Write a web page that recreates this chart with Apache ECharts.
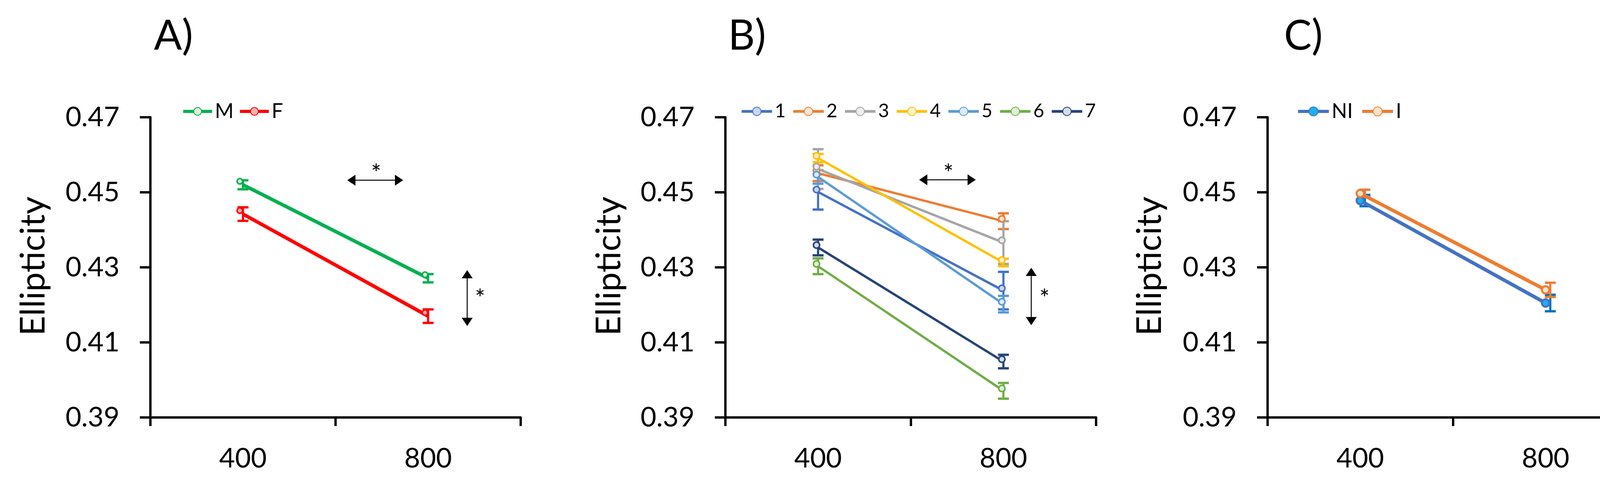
<!DOCTYPE html>
<html><head><meta charset="utf-8">
<script src="https://cdn.jsdelivr.net/npm/echarts@6/dist/echarts.min.js"></script>
<style>html,body{margin:0;padding:0;background:#fff}#c{width:4228px;height:1228px}</style>
</head><body><div id="c"></div>
<script>
// ---------- data ----------
const categories = ['400', '800'];
const yTicks = [0.39, 0.41, 0.43, 0.45, 0.47];

// Panel A (sex)
const sexNames = ['M', 'F'];
const sexM = [0.4520, 0.4271];
const sexMErr = [0.0012, 0.0011];
const sexF = [0.4442, 0.4170];
const sexFErr = [0.0018, 0.0018];

// Panel B (groups 1..7)
const groupNames = ['1', '2', '3', '4', '5', '6', '7'];
const g1 = [0.4501, 0.4238]; const g1Err = [0.0047, 0.0050];
const g2 = [0.4551, 0.4423]; const g2Err = [0.0021, 0.0021];
const g3 = [0.4562, 0.4366]; const g3Err = [0.0053, 0.0057];
const g4 = [0.4591, 0.4313]; const g4Err = [0.0011, 0.0010];
const g5 = [0.4541, 0.4202]; const g5Err = [0.0018, 0.0022];
const g6 = [0.4303, 0.3971]; const g6Err = [0.0021, 0.0021];
const g7 = [0.4353, 0.4049]; const g7Err = [0.0021, 0.0018];

// Panel C (NI / I)
const condNames = ['NI', 'I'];
const condNI = [0.4478, 0.4205];
const condNIErr = [0.0015, 0.0022];
const condI = [0.4497, 0.4240];
const condIErr = [0.0010, 0.0019];

const panelTitles = ['A)', 'B)', 'C)'];
const yTitle = 'Ellipticity';

// ---------- styling ----------
const FONT = 'Lato';
const grids = [
  { left: 385, right: 4228 - 1333, top: 300, bottom: 1228 - 1068 },
  { left: 1857, right: 4228 - 2806, top: 300, bottom: 1228 - 1068 },
  { left: 3245, right: 4228 - 4194, top: 300, bottom: 1228 - 1068 }
];

function xAx(i) {
  return {
    type: 'category', gridIndex: i, data: categories, boundaryGap: true,
    axisLine: { lineStyle: { color: '#000', width: 6 } },
    axisTick: { show: true, length: 22, lineStyle: { color: '#000', width: 6 } },
    axisLabel: { fontSize: 70, color: '#000', margin: 70, fontFamily: FONT },
    splitLine: { show: false }
  };
}
function yAx(i) {
  return {
    type: 'value', gridIndex: i, min: yTicks[0], max: yTicks[yTicks.length - 1], interval: 0.02,
    axisLine: { show: true, lineStyle: { color: '#000', width: 6 } },
    axisTick: { show: true, length: 27, lineStyle: { color: '#000', width: 6 } },
    axisLabel: { fontSize: 70, color: '#000', margin: 79, fontFamily: FONT, formatter: v => v.toFixed(2) },
    splitLine: { show: false }
  };
}

function lineS(name, data, gi, color, fill, lw, size, bw, off) {
  return {
    type: 'line', name: name, xAxisIndex: gi, yAxisIndex: gi, data: data, z: 5,
    symbol: 'circle', symbolSize: size, symbolOffset: off || [0, 0], showAllSymbol: true,
    lineStyle: { color: color, width: lw },
    itemStyle: { color: fill, borderColor: color, borderWidth: bw },
    emphasis: { disabled: true }, animation: false
  };
}
function errS(name, data, err, gi, color, dx) {
  return {
    type: 'custom', name: name + '_err', xAxisIndex: gi, yAxisIndex: gi, z: 3, silent: true, animation: false,
    data: data.map((v, i) => [i, v - err[i], v + err[i]]),
    renderItem: function (params, api) {
      const p1 = api.coord([api.value(0), api.value(1)]);
      const p2 = api.coord([api.value(0), api.value(2)]);
      const x = p1[0] + dx, hw = 14;
      return {
        type: 'group', children: [
          { type: 'line', shape: { x1: x, y1: p1[1], x2: x, y2: p2[1] }, style: { stroke: color, lineWidth: 5.5 } },
          { type: 'line', shape: { x1: x - hw, y1: p1[1], x2: x + hw, y2: p1[1] }, style: { stroke: color, lineWidth: 6 } },
          { type: 'line', shape: { x1: x - hw, y1: p2[1], x2: x + hw, y2: p2[1] }, style: { stroke: color, lineWidth: 6 } }
        ]
      };
    }
  };
}

const colA = ['#00B050', '#FF0000'], fillA = ['#E2F0D9', '#F4B0B0'];
const colB = ['#4472C4', '#ED7D31', '#A5A5A5', '#FFC000', '#5B9BD5', '#70AD47', '#264478'];
const fillB = ['#C9D6EE', '#FBE5D6', '#EDEDED', '#FFF2CC', '#DEEBF7', '#E2F0D9', '#D6DCE5'];
const colC = ['#4472C4', '#ED7D31'], fillC = ['#1CB0EE', '#FBE2CC'], errColC = ['#0070C0', '#ED7D31'];

const gVals = [g1, g2, g3, g4, g5, g6, g7];
const gErrs = [g1Err, g2Err, g3Err, g4Err, g5Err, g6Err, g7Err];

const series = [];
[[sexM, sexMErr], [sexF, sexFErr]].forEach((d, k) => {
  series.push(errS(sexNames[k], d[0], d[1], 0, colA[k], 0));
  series.push(lineS(sexNames[k], d[0], 0, colA[k], fillA[k], 9, 14, 4, [-8, -9]));
});
gVals.forEach((d, k) => {
  series.push(errS(groupNames[k], d, gErrs[k], 1, colB[k], 0));
  series.push(lineS(groupNames[k], d, 1, colB[k], fillB[k], 6, 16, 4, [-4, -6]));
});
[[condNI, condNIErr], [condI, condIErr]].forEach((d, k) => {
  series.push(errS(condNames[k], d[0], d[1], 2, errColC[k], 12));
  series.push(lineS(condNames[k], d[0], 2, colC[k], fillC[k], 9, 19, 5, [0, 0]));
});

function legend(names, left, itemW, itemH, gap, fs, lw) {
  return {
    data: names, left: left, top: 280 - Math.max(itemH, fs) / 2, orient: 'horizontal',
    itemWidth: itemW, itemHeight: itemH, itemGap: gap, selectedMode: false,
    lineStyle: { width: lw },
    textStyle: { fontSize: fs, color: '#000', fontFamily: FONT, padding: [0, 0, 0, 2] }
  };
}

// annotation graphics
const graphics = [];
const titleX = [394, 1864, 3287];
titleX.forEach((x, i) => graphics.push({
  type: 'text', left: x, top: 40, style: { text: panelTitles[i], fontSize: 106, fill: '#000', fontFamily: FONT }
}));
[86, 1560, 2944].forEach(x => graphics.push({
  type: 'text', x: x, y: 681, rotation: Math.PI / 2,
  style: { text: yTitle, fontSize: 88, fill: '#000', fontFamily: FONT, align: 'center', verticalAlign: 'middle' }
}));
function hArrow(x1, x2, y) {
  graphics.push({ type: 'line', shape: { x1: x1 + 18, y1: y, x2: x2 - 18, y2: y }, style: { stroke: '#000', lineWidth: 2.5 } });
  graphics.push({ type: 'polygon', shape: { points: [[x1, y], [x1 + 21, y - 14], [x1 + 21, y + 14]] }, style: { fill: '#000' } });
  graphics.push({ type: 'polygon', shape: { points: [[x2, y], [x2 - 21, y - 14], [x2 - 21, y + 14]] }, style: { fill: '#000' } });
}
function vArrow(x, y1, y2) {
  graphics.push({ type: 'line', shape: { x1: x, y1: y1 + 18, x2: x, y2: y2 - 18 }, style: { stroke: '#000', lineWidth: 2.5 } });
  graphics.push({ type: 'polygon', shape: { points: [[x, y1], [x - 14, y1 + 21], [x + 14, y1 + 21]] }, style: { fill: '#000' } });
  graphics.push({ type: 'polygon', shape: { points: [[x, y2], [x - 14, y2 - 21], [x + 14, y2 - 21]] }, style: { fill: '#000' } });
}
function star(x, y) {
  graphics.push({ type: 'text', x: x, y: y, style: { text: '*', fontSize: 62, fill: '#000', fontFamily: FONT, align: 'center', verticalAlign: 'middle' } });
}
hArrow(889, 1032, 461); star(963, 445);
vArrow(1196, 691, 834); star(1229, 765);
hArrow(2353, 2498, 460); star(2428, 445);
vArrow(2640, 685, 832); star(2674, 765);

const chart = echarts.init(document.getElementById('c'), null, { renderer: 'canvas' });
chart.setOption({
  backgroundColor: '#fff',
  animation: false,
  textStyle: { fontFamily: FONT },
  grid: grids,
  xAxis: [xAx(0), xAx(1), xAx(2)],
  yAxis: [yAx(0), yAx(1), yAx(2)],
  legend: [
    legend(sexNames, 460, 74, 25, 12, 52, 8),
    legend(groupNames, 1890, 78, 27, 16, 48, 7),
    legend(condNames, 3314, 79, 29, 20, 52, 8)
  ],
  series: series,
  graphic: graphics
});
</script></body></html>
